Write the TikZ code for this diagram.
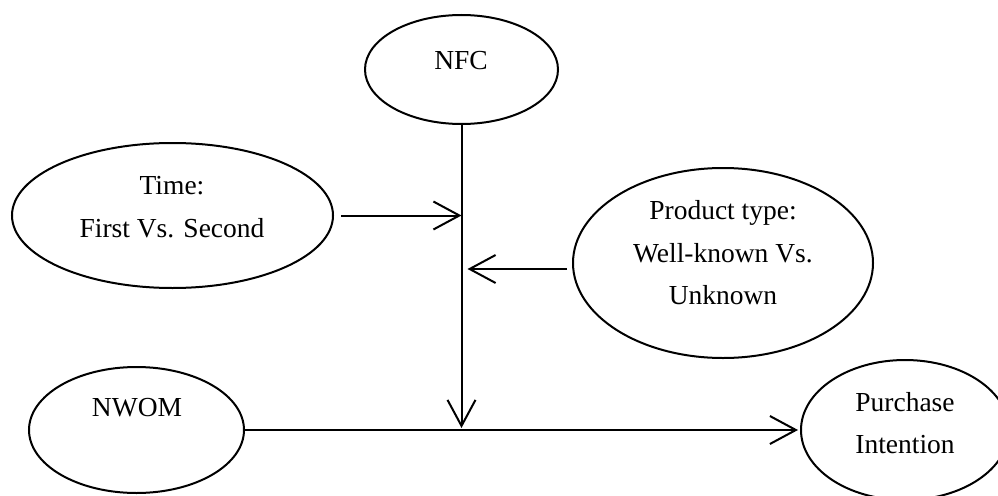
\documentclass[tikz,border=0pt]{standalone}
\usepackage{fontspec}
\setmainfont{Liberation Serif}
\usetikzlibrary{shapes.geometric,arrows.meta}
\begin{document}
\begin{tikzpicture}[x=1pt,y=-1pt,
  oval/.style={draw,ellipse,line width=2pt,inner sep=0pt},
  lbl/.style={align=center,inner sep=0pt,font=\fontsize{27.5}{42.5}\selectfont},
  conn/.style={line width=2pt,-{Straight Barb[length=26pt,width=28pt]}}]
\useasboundingbox (0,0) rectangle (998,495);
\clip (0,0) rectangle (998,495);
% ellipses
\node[oval,minimum width=193pt,minimum height=109pt] (nfc) at (461.5,69.5) {};
\node[oval,minimum width=321pt,minimum height=145pt] (time) at (172.5,215.5) {};
\node[oval,minimum width=300pt,minimum height=190pt] (prod) at (723,263) {};
\node[oval,minimum width=215pt,minimum height=126pt] (nwom) at (136.5,430) {};
\node[oval,minimum width=208pt,minimum height=140pt] (purch) at (905,430) {};
% labels
\node[lbl] (nfcT) at (461,61) {NFC};
\node[lbl] (timeT) at (172,207) {Time:\\First Vs. Second};
\node[lbl] (prodT) at (723,253) {Product type:\\Well-known Vs.\\Unknown};
\node[lbl] (nwomT) at (137,408) {NWOM};
\node[lbl] (purchT) at (905,423) {Purchase\\Intention};
% connectors
\coordinate (hub) at (nfc.south |- nwom.east);
\draw[conn,shorten >=2pt] (nfc.south) -- (hub);
\draw[conn] ([xshift=7pt]time.east) -- (time.east -| nfc.south);
\draw[conn] ([xshift=-5pt,yshift=-6pt]prod.west) -- ([xshift=6pt,yshift=-6pt]prod.west -| nfc.south);
\draw[conn,shorten >=2pt] (nwom.east) -- (purch.west);
\end{tikzpicture}
\end{document}
